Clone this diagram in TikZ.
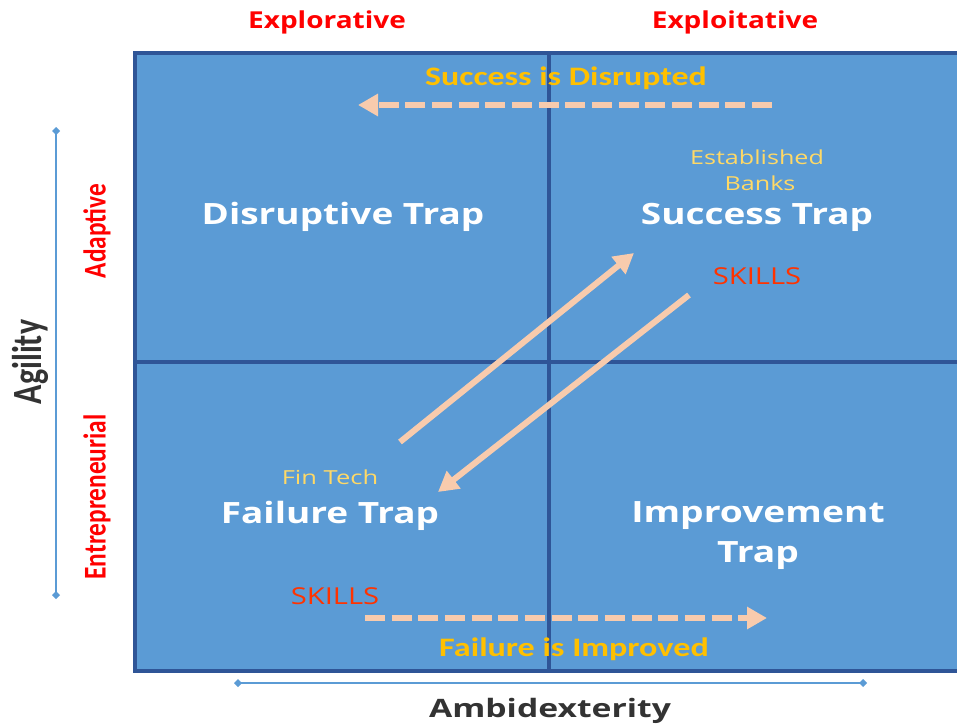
\documentclass[tikz,border=0pt]{standalone}
\usepackage{graphicx}
\usepackage{fontspec}
\setmainfont{Open Sans}
\newfontfamily\carl{Carlito}
\usetikzlibrary{arrows.meta,shapes.geometric}
\definecolor{qfill}{HTML}{5B9BD5}
\definecolor{qborder}{HTML}{2F5597}
\definecolor{peach}{HTML}{F8CBAD}
\definecolor{gold}{HTML}{FFC000}
\definecolor{lightgold}{HTML}{FFD966}
\definecolor{skillred}{HTML}{FF3300}
\definecolor{axisblue}{HTML}{5B9BD5}
\definecolor{darkgray}{HTML}{333333}
\newcommand{\hstretch}[2]{\scalebox{#1}[1]{#2}}
\newcommand{\vstretch}[2]{\scalebox{1}[#1]{#2}}
\tikzset{
  title/.style={text=white,font=\fontsize{22}{26}\selectfont\bfseries,inner sep=0pt},
  toplabel/.style={text=red,font=\fontsize{17.5}{20}\selectfont\bfseries,inner sep=0pt},
  sidelabel/.style={text=red,font=\carl\fontsize{19}{22}\selectfont\bfseries,inner sep=0pt,rotate=90},
  goldlabel/.style={text=gold,font=\carl\fontsize{20}{24}\selectfont\bfseries,inner sep=0pt},
  smalllabel/.style={text=lightgold,font=\fontsize{14.5}{17}\selectfont,inner sep=0pt},
  skills/.style={text=skillred,font=\fontsize{17.5}{20}\selectfont,inner sep=0pt},
  bigarrow/.style={draw=peach,line width=4.5pt,-{Triangle[length=15pt,width=16pt]}},
  dasharrow/.style={draw=peach,line width=4.5pt,dash pattern=on 15pt off 5pt,-{Triangle[length=15pt,width=16pt]}},
  axisline/.style={draw=axisblue,line width=1pt,{Diamond[length=6pt,width=6pt]}-{Diamond[length=6pt,width=6pt]}},
}
\begin{document}
\begin{tikzpicture}[x=0.75pt,y=-0.75pt]
\useasboundingbox (0,0) rectangle (957,724);
% quadrant field
\fill[qfill] (135,53) rectangle (962,671);
\draw[qborder,line width=3pt] (962,53) -- (135,53) -- (135,671) -- (962,671);
\draw[qborder,line width=3pt] (549,53) -- (549,671);
\draw[qborder,line width=3pt] (135,362) -- (962,362);
% top labels
\node[toplabel] (explor) at (327,22) {\hstretch{1.2}{Explorative}};
\node[toplabel] (exploit) at (735,22) {\hstretch{1.2}{Exploitative}};
% quadrant titles
\node[title] (disrupt) at (343,217) {\hstretch{1.26}{Disruptive Trap}};
\node[title] (success) at (757,217) {\hstretch{1.26}{Success Trap}};
\node[title] (failure) at (330,516) {\hstretch{1.26}{Failure Trap}};
\node[title] (improve) at (758,516) {\hstretch{1.27}{Improvement}};
\node[title] (improve2) at (758,556) {\hstretch{1.27}{Trap}};
% small labels
\node[smalllabel] (estab) at (757,157) {\hstretch{1.3}{Established}};
\node[smalllabel] (banks) at (760,183) {\hstretch{1.3}{Banks}};
\node[smalllabel] (fintech) at (330,477) {\hstretch{1.32}{Fin Tech}};
\node[skills] (skills1) at (757,276) {\hstretch{1.25}{SKILLS}};
\node[skills] (skills2) at (335,596) {\hstretch{1.25}{SKILLS}};
% gold labels
\node[goldlabel] (sdis) at (566,78) {\hstretch{1.27}{Success is Disrupted}};
\node[goldlabel] (fimp) at (574,649) {\hstretch{1.28}{Failure is Improved}};
% arrows
\coordinate (a1s) at (400,442);
\coordinate (a1e) at (634,253);
\coordinate (a2s) at (689,295);
\coordinate (a2e) at (438,492);
\draw[bigarrow] (a1s) -- (a1e);
\draw[bigarrow] (a2s) -- (a2e);
\coordinate (d1s) at (772,105);
\coordinate (d1e) at (358,105);
\coordinate (d2s) at (365,618);
\coordinate (d2e) at (767,618);
\draw[dasharrow] (d1s) -- (d1e);
\draw[dasharrow] (d2s) -- (d2e);
% axes
\coordinate (vt) at (56,127);
\coordinate (vb) at (56,599);
\coordinate (hl) at (234,683);
\coordinate (hr) at (867,683);
\draw[axisline] (vt) -- (vb);
\draw[axisline] (hl) -- (hr);
\node[sidelabel] (adapt) at (97,231) {\vstretch{1.25}{Adaptive}};
\node[sidelabel] (entre) at (97,497) {\vstretch{1.25}{Entrepreneurial}};
\node[text=darkgray,font=\carl\fontsize{24}{28}\selectfont\bfseries,rotate=90,inner sep=0pt] (agil) at (30,362) {\vstretch{1.3}{Agility}};
\node[text=darkgray,font=\fontsize{19}{22}\selectfont\bfseries,inner sep=0pt] (ambi) at (550,711) {\hstretch{1.33}{Ambidexterity}};
\end{tikzpicture}
\end{document}
